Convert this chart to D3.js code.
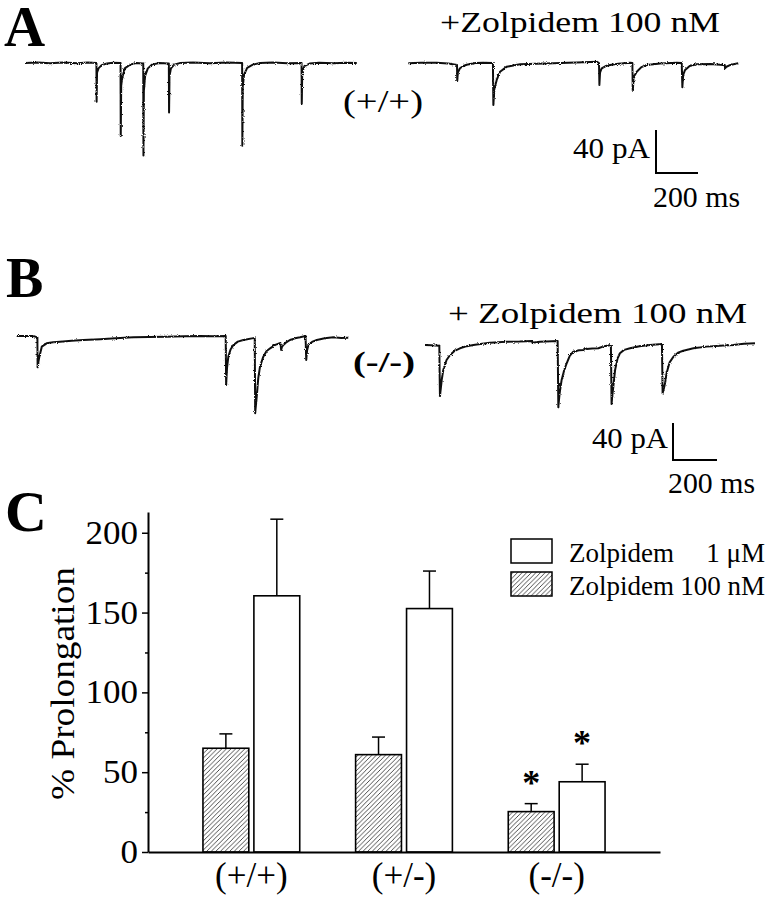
<!DOCTYPE html>
<html><head><meta charset="utf-8">
<script src="https://cdn.jsdelivr.net/npm/d3@7"></script>
<style>
body{margin:0;background:#fff}
svg{display:block}
</style>
</head><body><svg id="c" width="773" height="899"></svg>
<script>
// ---------------- DATA ----------------
const genotypes = ["(+/+)", "(+/-)", "(-/-)"];
const drugName = "Zolpidem";
const seriesKeys = ["100 nM", "1 μM"];
const mean100nM = [65, 61, 25.3];
const sem100nM = [9, 11, 5];
const mean1uM = [160.5, 152.5, 44];
const sem1uM = [48, 23.5, 11];
const significant = [false, false, true];
const yTicksMajor = [0, 50, 100, 150, 200];
const yTicksMinor = [25, 75, 125, 175];
const yLabel = "% Prolongation";
const panelLabels = ["A", "B", "C"];
const traceTitleA = "+Zolpidem 100 nM";
const traceTitleB = "+ Zolpidem 100 nM";
const scaleBarCurrent = 40;   // pA
const scaleBarTime = 200;     // ms

// sIPSC traces: [time ms, current pA]
const traceAControl = [[0,0],[60,0.5],[120,-0.3],[180,0.4],[250,-0.2],[300,0.4],[340,0],
 [341,-36],[343,-9],[350,-5],[365,-2],[390,-0.5],[420,0.3],[455,0],
 [456,-68],[458,-21],[463,-14],[475,-5],[500,-1.5],[530,0],[563,-0.5],
 [564,-86],[566,-26],[572,-12],[585,-5],[605,-1.5],[640,0],[685,-0.5],
 [686,-46],[688,-12],[695,-5],[710,-1.5],[740,0],[800,0.4],[880,-0.3],[960,0.4],[1034,0],
 [1035,-77],[1037,-22],[1043,-11],[1058,-4.5],[1085,-1.5],[1120,0],[1180,0.4],[1250,-0.3],[1317,0],
 [1318,-38],[1320,-9],[1330,-3],[1355,-0.5],[1400,0.3],[1470,-0.3],[1530,0.3],[1580,0]];
const traceAZolpidem = [[0,-0.3],[60,0.3],[135,0.3],[190,-0.5],[232,-1.9],
 [233,-16.7],[236,-9],[246,-4.9],[262,-2.8],[278,-1.6],[320,0],[357,0.3],[403,0],
 [405,-39],[410,-24],[421,-15.8],[437,-8.1],[469,-3.4],[532,-1.2],[610,-0.6],[690,-0.3],[800,0.5],[897,1.2],[908,0],
 [910,-20.5],[913,-9],[921,-4.9],[940,-2.8],[961,-1.9],[1000,-0.7],[1056,0.3],[1067,0],
 [1069,-25.8],[1073,-13],[1088,-8.1],[1110,-3.8],[1135,-1.9],[1200,-0.5],[1278,0.3],[1302,0],
 [1305,-22.6],[1309,-11],[1318,-6.5],[1340,-2.8],[1373,-1.2],[1440,-1],[1500,-1.9],[1507,-1.8],
 [1508,-4.9],[1515,-3.5],[1532,-1.9],[1571,-0.3]];
const traceBControl = [[0,0.5],[75,0.5],[94,-0.9],[95,-33.3],[99,-27],[103,-21.8],[114,-11],[136,-7.4],
 [165,-6.3],[197,-5.6],[250,-4.5],[303,-3.8],[379,-3],[450,-2],[530,-0.9],[600,-0.5],[682,-0.2],[760,0.3],[833,0.5],[900,0.2],[950,0.5],
 [952,-52.4],[956,-34],[962,-21.8],[972,-14],[985,-9.2],[1005,-5.5],[1030,-3.8],[1082,-1.5],
 [1084,-83],[1091,-65],[1098,-45],[1106,-32.6],[1121,-21.8],[1135,-16],[1152,-12.8],[1175,-9],[1199,-7],
 [1202,-14.6],[1206,-11],[1212,-9.2],[1227,-6],[1242,-3.8],[1265,-2],[1288,-0.9],[1313,0.5],
 [1316,-25.4],[1320,-15],[1326,-9.2],[1345,-5.5],[1364,-3.8],[1400,-2],[1439,-0.9],[1475,-1.5],[1507,-1.3]];
const traceBZolpidem = [[0,-3.2],[30,-3.5],[65,-4],[68,-58.4],[72,-50],[76,-41],[83,-30.3],[98,-19.5],[114,-14],
 [135,-9.5],[159,-6.8],[190,-4.5],[220,-3.2],[260,-1.8],[295,-0.8],[371,0.3],[430,0.5],[485,1.1],[490,-1.4],[495,-0.5],[523,0.3],[603,1.1],
 [606,-70.6],[610,-60],[614,-51.9],[621,-41],[632,-31],[644,-23],[658,-15],[674,-10.5],[700,-9],[720,-8.6],[728,-6.5],[735,-7.5],
 [760,-7],[788,-6.8],[815,-4.5],[845,-3.2],
 [848,-67],[852,-57],[856,-48.3],[864,-30.3],[875,-18],[886,-12.2],[905,-8.5],[932,-6.8],[975,-4.5],[1023,-3.2],[1077,-2.2],
 [1080,-55.5],[1086,-50],[1091,-44.7],[1098,-33.8],[1112,-22],[1129,-15.9],[1150,-11.5],[1174,-9.4],[1220,-6.8],[1280,-5],
 [1340,-4],[1401,-3.2],[1450,-2],[1500,-1.4]];

// ---------------- DRAW ----------------
const FONT = "Liberation Serif";
const svg = d3.select("#c");
const defs = svg.append("defs");
const pat = defs.append("pattern").attr("id","hatch").attr("patternUnits","userSpaceOnUse")
  .attr("width",4.6).attr("height",4.6);
pat.append("rect").attr("width",4.6).attr("height",4.6).attr("fill","#fff");
pat.append("path").attr("d","M0,4.6L4.6,0M-1,1L1,-1M3.6,5.6L5.6,3.6")
  .attr("stroke","#222").attr("stroke-width",0.8);
const flt = defs.append("filter").attr("id","noise").attr("x","-2%").attr("y","-10%").attr("width","104%").attr("height","120%");
flt.append("feTurbulence").attr("type","fractalNoise").attr("baseFrequency","0.9").attr("numOctaves",1).attr("seed",4).attr("result","t");
flt.append("feDisplacementMap").attr("in","SourceGraphic").attr("in2","t").attr("scale",2.8)
  .attr("xChannelSelector","R").attr("yChannelSelector","G");

function txt(x, y, s, size, opts = {}) {
  const t = svg.append("text").attr("x", x).attr("y", y).attr("font-size", size)
    .style("font-family", FONT).attr("fill", "#000").text(s);
  if (opts.len) t.attr("textLength", opts.len).attr("lengthAdjust", "spacingAndGlyphs");
  if (opts.bold) t.attr("font-weight", "bold");
  if (opts.anchor) t.attr("text-anchor", opts.anchor);
  return t;
}

// panel labels
txt(4, 46, panelLabels[0], 57, {bold:true});
txt(6, 297, panelLabels[1], 56, {bold:true});
txt(5, 531, panelLabels[2], 58, {bold:true});

// ---- traces ----
function drawTrace(data, xs, ys) {
  const line = d3.line().x(d => xs(d[0])).y(d => ys(d[1]));
  svg.append("path").datum(data).attr("d", line).attr("fill","none")
    .attr("stroke","#111").attr("stroke-width",2).attr("stroke-linejoin","round")
    .attr("filter","url(#noise)");
}
const pxPerMsA = 0.21, pxPerPaA = 1.075;
const pxPerMsB = 0.22, pxPerPaB = 0.925;
const xA1 = d3.scaleLinear().domain([0, 1580]).range([25, 25 + 1580*pxPerMsA]);
const xA2 = d3.scaleLinear().domain([0, 1580]).range([408.3, 408.3 + 1580*pxPerMsA]);
const yA = d3.scaleLinear().domain([0, -100]).range([63, 63 + 100*pxPerPaA]);
const xB1 = d3.scaleLinear().domain([0, 1510]).range([16.7, 16.7 + 1510*pxPerMsB]);
const xB2 = d3.scaleLinear().domain([0, 1500]).range([425, 425 + 1500*pxPerMsB]);
const yB1 = d3.scaleLinear().domain([0, -100]).range([336.5, 336.5 + 100*pxPerPaB]);
const yB2 = d3.scaleLinear().domain([0, -100]).range([342, 342 + 100*pxPerPaB]);
drawTrace(traceAControl, xA1, yA);
drawTrace(traceAZolpidem, xA2, yA);
drawTrace(traceBControl, xB1, yB1);
drawTrace(traceBZolpidem, xB2, yB2);

function scaleBar(cx, cy, xs, ys) {
  const w = xs(scaleBarTime) - xs(0);
  const h = ys(-scaleBarCurrent) - ys(0);
  svg.append("path").attr("d", `M${cx},${cy - h}V${cy}H${cx + w}`)
    .attr("fill","none").attr("stroke","#000").attr("stroke-width",2);
}
scaleBar(656, 173, xA1, yA);
scaleBar(673, 460, xB1, yB1);

txt(440, 32, traceTitleA, 30, {len:280});
txt(343, 111.5, genotypes[0], 31, {len:80});
txt(573, 158, `${scaleBarCurrent} pA`, 29, {len:77});
txt(653, 207, `${scaleBarTime} ms`, 29, {len:87});

txt(448, 323, traceTitleB, 30, {len:299});
txt(353, 372, genotypes[2], 30, {len:62, bold:true});
txt(592, 448, `${scaleBarCurrent} pA`, 29, {len:76});
txt(668, 493, `${scaleBarTime} ms`, 29, {len:87});

// ---- bar chart ----
const x0 = d3.scaleBand().domain(genotypes).range([148, 660]).paddingInner(0.366).paddingOuter(0.36);
const x1 = d3.scaleBand().domain(seriesKeys).range([0, x0.bandwidth()]).paddingInner(0.1);
const y = d3.scaleLinear().domain([0, 213]).range([852, 512]);

const rows = genotypes.map((g, i) => ({g, i, vals: [
  {key: seriesKeys[0], mean: mean100nM[i], sem: sem100nM[i], fill: "url(#hatch)"},
  {key: seriesKeys[1], mean: mean1uM[i], sem: sem1uM[i], fill: "#fff"}
]}));

const gBars = svg.append("g");
rows.forEach(r => {
  r.vals.forEach(v => {
    const bx = x0(r.g) + x1(v.key), bw = x1.bandwidth();
    const cx = bx + bw/2;
    gBars.append("rect").attr("x", bx).attr("y", y(v.mean)).attr("width", bw)
      .attr("height", y(0) - y(v.mean)).attr("fill", v.fill)
      .attr("stroke","#000").attr("stroke-width",1.6);
    gBars.append("line").attr("x1",cx).attr("x2",cx).attr("y1",y(v.mean)).attr("y2",y(v.mean+v.sem))
      .attr("stroke","#000").attr("stroke-width",1.5);
    gBars.append("line").attr("x1",cx-6.5).attr("x2",cx+6.5).attr("y1",y(v.mean+v.sem)).attr("y2",y(v.mean+v.sem))
      .attr("stroke","#000").attr("stroke-width",1.5);
    if (significant[r.i]) {
      gBars.append("text").attr("x", cx).attr("y", y(v.mean+v.sem) - 25 + 16)
        .attr("text-anchor","middle").attr("font-size",36).attr("font-weight","bold")
        .style("font-family", FONT).text("*");
    }
  });
});

// y axis
const gy = svg.append("g").attr("transform","translate(148,0)");
gy.call(d3.axisLeft(y).tickValues(yTicksMajor).tickSize(6).tickSizeOuter(0).tickPadding(4));
gy.append("g").call(d3.axisLeft(y).tickValues(yTicksMinor).tickSize(3).tickSizeOuter(0).tickFormat(""))
  .select(".domain").remove();
gy.selectAll("text").attr("font-size",33).attr("fill","#000").style("font-family", FONT)
  .attr("textLength", d => String(d).length * 17.5).attr("lengthAdjust","spacingAndGlyphs");
gy.selectAll("line").attr("stroke","#000").attr("stroke-width",1.5);
gy.select(".domain").attr("stroke","#000").attr("stroke-width",2);

// x axis
const gx = svg.append("g").attr("transform","translate(0,852)");
gx.call(d3.axisBottom(x0).tickSize(0).tickSizeOuter(0).tickPadding(10));
gx.selectAll("text").attr("font-size",35).attr("fill","#000").style("font-family", FONT);
gx.select(".domain").attr("stroke","#000").attr("stroke-width",2.2);

// y label
svg.append("text").attr("transform","translate(74,683.5) rotate(-90)")
  .attr("text-anchor","middle").attr("font-size",34).style("font-family", FONT)
  .attr("textLength",233).attr("lengthAdjust","spacingAndGlyphs").text(yLabel);

// legend
const legend = [{key: seriesKeys[1], fill:"#fff", y:539}, {key: seriesKeys[0], fill:"url(#hatch)", y:572}];
legend.forEach(l => {
  svg.append("rect").attr("x",511).attr("y",l.y).attr("width",41).attr("height",24)
    .attr("fill",l.fill).attr("stroke","#000").attr("stroke-width",1.5);
  txt(569, l.y + 23, drugName, 27);
  txt(765, l.y + 23, l.key, 27, {anchor:"end"});
});
</script>
</body></html>
